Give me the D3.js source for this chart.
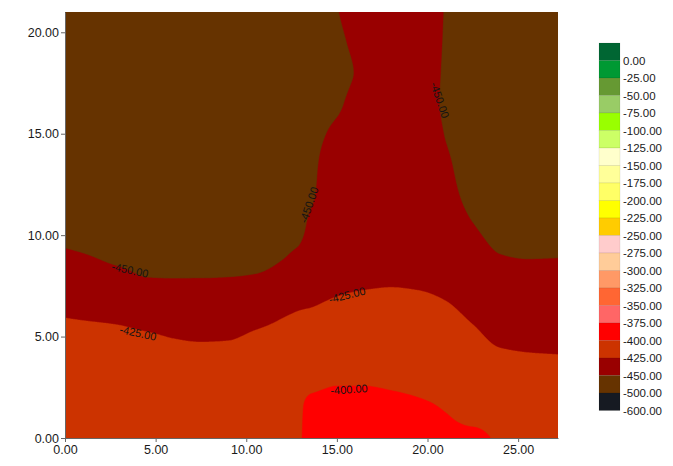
<!DOCTYPE html>
<html>
<head>
<meta charset="utf-8">
<script src="https://cdn.jsdelivr.net/npm/d3@7"></script>
<style>
  html, body { margin: 0; padding: 0; background: #fff; }
  svg { display: block; font-family: "Liberation Sans", Arial, sans-serif; }
</style>
</head>
<body>
<svg id="chart" width="673" height="466"></svg>
<script>
// Grid node positions (data units)
const xNodes = [0, 1.5, 3, 4.5, 6, 7.5, 9, 10.5, 12, 12.8, 13.6, 15, 16.5, 18, 19.5, 21, 22.5, 24, 25.5, 27.2];
const yNodes = [0, 1.5, 3, 4.5, 6, 7.5, 9, 10.5, 12, 13.5, 15, 16.5, 18, 19.5, 21];

// Measured values, one row per yNode (bottom row first), one entry per xNode
const gridValues = [
  [-408, -408, -408, -408, -408, -408, -408, -409, -410, -404, -392, -385, -384, -385, -387, -392, -393, -403.5, -407, -408],
  [-412, -412.5, -412.5, -413, -413, -413, -413, -413.5, -413.5, -405.5, -394, -390, -389, -392, -396, -401.5, -410, -411, -413, -413.5],
  [-416.5, -417, -417, -418, -418, -418.5, -418.5, -418, -417, -411, -409, -404, -404, -406, -408, -410, -415, -417, -419, -419.5],
  [-421, -420.5, -421, -422, -423.5, -424, -423.8, -422, -421, -418, -416, -413, -411, -413, -414, -416, -420, -425.3, -426.5, -427],
  [-425.3, -426.3, -427.2, -429.3, -430, -431.7, -431, -428.5, -425.4, -424, -423, -420, -418, -418.5, -419, -421.5, -427, -433.5, -435, -435],
  [-436.5, -438.8, -440, -446, -446.5, -446.5, -446, -444, -437, -431, -430, -427.5, -426, -425.3, -426, -428.5, -435, -441.5, -443, -443],
  [-447.4, -450.4, -455, -459, -459.5, -459.5, -459, -458, -451.8, -446, -437, -433, -432, -431, -432, -435, -442, -449.7, -451, -450.7],
  [-458, -460, -463, -466, -467, -467, -466, -464, -460, -459, -445, -436, -435, -434, -436, -440, -449.5, -457, -459, -458],
  [-466, -467, -469, -471, -472, -472, -470, -467, -462, -460, -452.5, -438, -436, -435, -438, -444, -456, -462, -464, -464],
  [-472, -472, -473, -474, -475, -475, -472, -468, -462, -460, -454, -440, -437, -436, -440, -447, -461, -466, -468, -468],
  [-476, -475, -475, -476, -477, -476, -473, -469, -463, -461, -456, -446, -438, -436, -441, -450.8, -464, -468, -470, -470],
  [-478, -477, -477, -477, -478, -477, -474, -470, -464, -462, -458, -453, -440, -436, -443, -452.5, -466, -470, -471, -471],
  [-480, -478, -478, -478, -478, -477, -474, -470, -466, -464, -460, -456, -446, -437, -443, -452, -467, -471, -472, -472],
  [-480, -478, -478, -478, -478, -477, -474, -470, -467, -465, -461, -454, -443, -437, -442, -451.5, -467, -471, -472, -472],
  [-480, -478, -478, -478, -478, -477, -474, -470, -467, -465, -461, -451, -438, -436, -441, -451, -466, -470, -472, -472]
];

// Colour scale: each level is the lower bound of the box drawn above its label
const levels = [0, -25, -50, -75, -100, -125, -150, -175, -200, -225, -250, -275, -300,
                -325, -350, -375, -400, -425, -450, -500, -600];
const levelColors = ["#006633", "#009933", "#669933", "#99cc66", "#99ff00", "#ccff66", "#ffffcc",
                     "#ffff99", "#ffff66", "#ffff00", "#ffcc00", "#ffcccc", "#ffcc99", "#ff9966",
                     "#ff6633", "#ff6666", "#ff0000", "#cc3300", "#990000", "#663300", "#161a22"];

const xTicks = [0, 5, 10, 15, 20, 25];
const yTicks = [0, 5, 10, 15, 20];

// In-plot contour annotations: value, anchor (data units), text angle (degrees)
const contourLabels = [
  { value: -450, x: 3.59, y: 8.28, angle: 12 },
  { value: -425, x: 4.03, y: 5.18, angle: 12 },
  { value: -425, x: 15.56, y: 7.05, angle: -14 },
  { value: -400, x: 15.67, y: 2.4, angle: -4 },
  { value: -450, x: 13.46, y: 11.49, angle: -71 },
  { value: -450, x: 20.69, y: 16.66, angle: 71 }
];

const svg = d3.select("#chart");
const plot = { left: 65, top: 12, right: 558, bottom: 438 };
const x = d3.scaleLinear([0, 27.2], [plot.left, plot.right]);
const y = d3.scaleLinear([0, 21], [plot.bottom, plot.top]);
// Two decimals, plain hyphen for negatives
const fmt = d3.formatLocale({ decimal: ".", thousands: ",", grouping: [3], currency: ["", ""], minus: "-" }).format(".2f");

// Shape-preserving cubic interpolation through unevenly spaced nodes
function monotoneInterpolator(xs, ys) {
  const n = xs.length, h = [], d = [], m = new Array(n);
  for (let k = 0; k < n - 1; k++) { h[k] = xs[k + 1] - xs[k]; d[k] = (ys[k + 1] - ys[k]) / h[k]; }
  m[0] = d[0]; m[n - 1] = d[n - 2];
  for (let k = 1; k < n - 1; k++) {
    if (d[k - 1] * d[k] <= 0) m[k] = 0;
    else m[k] = 3 * (h[k - 1] + h[k]) / ((2 * h[k] + h[k - 1]) / d[k - 1] + (h[k] + 2 * h[k - 1]) / d[k]);
  }
  return t => {
    let k = d3.bisectRight(xs, t) - 1;
    k = Math.max(0, Math.min(n - 2, k));
    const s = (t - xs[k]) / h[k], s2 = s * s, s3 = s2 * s;
    return (2 * s3 - 3 * s2 + 1) * ys[k] + (s3 - 2 * s2 + s) * h[k] * m[k]
         + (-2 * s3 + 3 * s2) * ys[k + 1] + (s3 - s2) * h[k] * m[k + 1];
  };
}

// Resample the node grid to one sample per pixel
const nx = Math.round(plot.right - plot.left), ny = Math.round(plot.bottom - plot.top);
const fx = d3.range(nx).map(i => x.invert(plot.left + i + 0.5));
const fy = d3.range(ny).map(j => y.invert(plot.top + j + 0.5));
const rowFine = gridValues.map(row => fx.map(monotoneInterpolator(xNodes, row)));
const values = new Float64Array(nx * ny);
for (let i = 0; i < nx; i++) {
  const f = monotoneInterpolator(yNodes, rowFine.map(r => r[i]));
  for (let j = 0; j < ny; j++) values[j * nx + i] = f(fy[j]);
}

const colorOf = new Map(levels.map((v, k) => [v, levelColors[k]]));
const thresholds = levels.slice().sort((a, b) => a - b);
const bands = d3.contours().size([nx, ny]).thresholds(thresholds)(values);

const toScreen = d3.geoTransform({
  point(px, py) { this.stream.point(plot.left + px, plot.top + py); }
});
const path = d3.geoPath(toScreen);

svg.append("clipPath").attr("id", "plot-clip")
  .append("rect").attr("x", plot.left).attr("y", plot.top)
  .attr("width", nx).attr("height", ny);

svg.append("g").attr("clip-path", "url(#plot-clip)")
  .selectAll("path").data(bands).join("path")
  .attr("d", path)
  .attr("fill", d => colorOf.get(d.value))
  .attr("stroke", d => colorOf.get(d.value))
  .attr("stroke-width", 0.4);

// Contour value labels
svg.append("g").selectAll("text").data(contourLabels).join("text")
  .attr("transform", d => `translate(${x(d.x)},${y(d.y)}) rotate(${d.angle})`)
  .attr("text-anchor", "middle")
  .attr("dominant-baseline", "central")
  .attr("font-size", 11)
  .attr("fill", "#141414")
  .text(d => fmt(d.value));

// Axes
const xAxis = svg.append("g").attr("transform", `translate(0,${plot.bottom})`)
  .call(d3.axisBottom(x).tickValues(xTicks).tickFormat(fmt).tickSize(4).tickSizeOuter(0).tickPadding(3));
const yAxis = svg.append("g").attr("transform", `translate(${plot.left},0)`)
  .call(d3.axisLeft(y).tickValues(yTicks).tickFormat(fmt).tickSize(4).tickSizeOuter(0).tickPadding(2));
[xAxis, yAxis].forEach(g => {
  g.attr("font-family", null).attr("font-size", 12.5);
  g.selectAll("path, line").attr("stroke", "#666");
  g.selectAll("text").attr("fill", "#1a1a1a");
});

// Legend
const legend = { left: 599, top: 43, width: 21, step: 17.5 };
const lg = svg.append("g");
lg.selectAll("rect").data(levels).join("rect")
  .attr("x", legend.left)
  .attr("y", (d, k) => legend.top + k * legend.step)
  .attr("width", legend.width)
  .attr("height", legend.step)
  .attr("fill", (d, k) => levelColors[k])
  .attr("stroke", "rgba(0,0,0,0.12)")
  .attr("stroke-width", 0.6);
lg.selectAll("text").data(levels).join("text")
  .attr("x", legend.left + legend.width + 3)
  .attr("y", (d, k) => legend.top + (k + 1) * legend.step)
  .attr("dominant-baseline", "central")
  .attr("font-size", 11.5)
  .attr("fill", "#1a1a1a")
  .text(d => fmt(d));
</script>
</body>
</html>
